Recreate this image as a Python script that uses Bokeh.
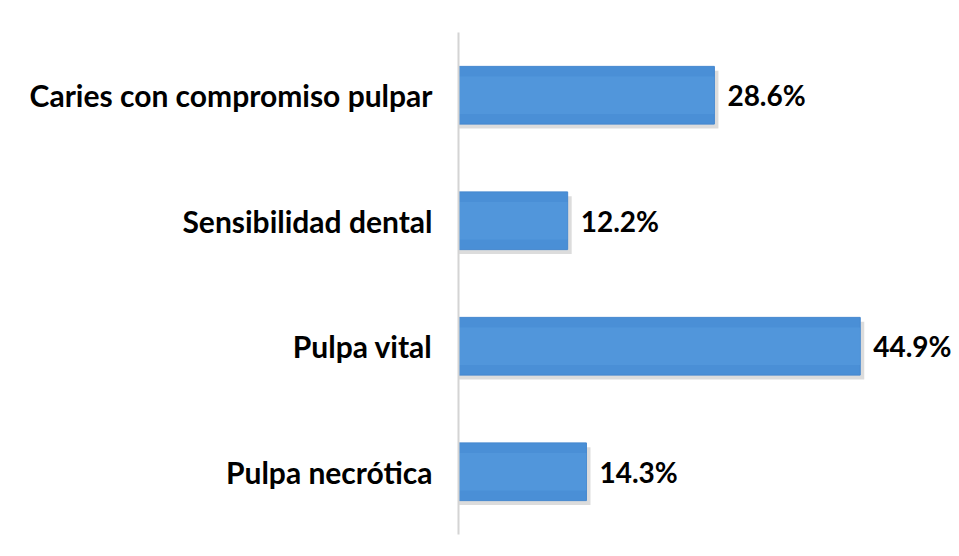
from bokeh.plotting import figure
from bokeh.models import ColumnDataSource, FactorRange, Range1d, LabelSet, BoxAnnotation
from bokeh.core.properties import value
from bokeh.transform import dodge
from bokeh.embed import file_html
from bokeh.resources import INLINE

categories = ["Pulpa necrótica", "Pulpa vital", "Sensibilidad dental", "Caries con compromiso pulpar"]
values = [14.3, 44.9, 12.2, 28.6]
value_labels = ["14.3%", "44.9%", "12.2%", "28.6%"]

source = ColumnDataSource(data=dict(
    cat=categories,
    val=values,
    lab=value_labels,
    shadow=[v + 0.45 for v in values],
))

p = figure(
    width=951, height=548,
    y_range=FactorRange(*categories, range_padding=0),
    x_range=Range1d(0, 55.1),
    output_backend="svg", toolbar_location=None,
    min_border_left=458, min_border_right=0,
    min_border_top=32, min_border_bottom=14,
)
p.outline_line_color = None
p.background_fill_color = "white"
p.border_fill_color = "white"
p.xgrid.visible = False
p.ygrid.visible = False
p.xaxis.visible = False

# chart-area border (top/left visible)
p.add_layout(BoxAnnotation(left=4, top=4, right=2000, bottom=2000,
                           left_units="canvas", top_units="canvas",
                           right_units="canvas", bottom_units="canvas",
                           fill_alpha=0, line_color="#d4d4d4", line_width=2,
                           level="underlay"))

# shadow
p.hbar(y=dodge("cat", -0.035, range=p.y_range), right="shadow", left=0, height=0.46,
       source=source, fill_color="#9a9a9a", fill_alpha=0.35, line_color=None)
# bars
p.hbar(y="cat", right="val", left=0, height=0.46, source=source,
       fill_color="#4a8fd6", line_color="#4487cf", line_width=1)
p.hbar(y="cat", right="val", left=0, height=0.3, source=source,
       fill_color="#5aa0e2", fill_alpha=0.45, line_color=None)

labels = LabelSet(x="val", y="cat", text="lab", source=source, x_offset=13,
                  text_baseline="middle", text_align="left",
                  text_font=value("Lato"), text_font_style="bold",
                  text_font_size="28px", text_color="black")
p.add_layout(labels)

ax = p.yaxis[0]
ax.axis_line_color = "#d4d4d4"
ax.axis_line_width = 2
ax.major_tick_line_color = None
ax.minor_tick_line_color = None
ax.major_label_standoff = 20
ax.major_label_text_font = "Lato"
ax.major_label_text_font_style = "bold"
ax.major_label_text_font_size = "30px"
ax.major_label_text_color = "black"

open("out.html", "w").write(file_html(p, INLINE))
